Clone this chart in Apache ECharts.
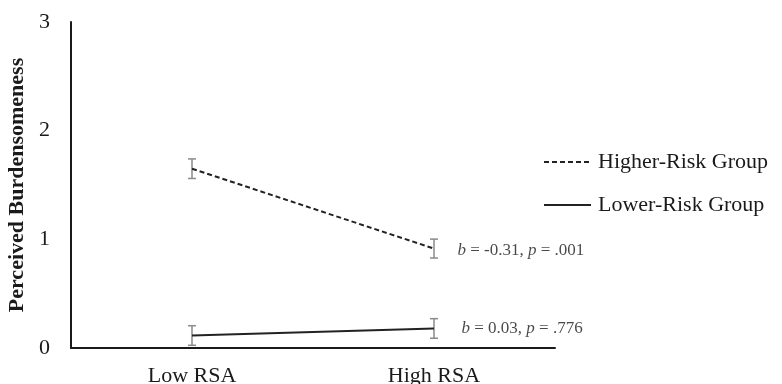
<!DOCTYPE html>
<html><head><meta charset="utf-8">
<script src="https://cdn.jsdelivr.net/npm/echarts@6/dist/echarts.min.js"></script>
<style>html,body{margin:0;padding:0;background:#fff}#c{width:782px;height:384px}</style>
</head><body><div id="c"></div>
<script>
const categories = ['Low RSA', 'High RSA'];
const higherRisk = [1.65, 0.915];
const higherErr = [0.09, 0.087];
const lowerRisk = [0.115, 0.18];
const lowerErr = [0.09, 0.09];
const yTicks = [0, 1, 2, 3];
const seriesNames = ['Higher-Risk Group', 'Lower-Risk Group'];
const annotations = ['{i|b} = -0.31, {i|p} = .001', '{i|b} = 0.03, {i|p} = .776'];

const FONT = '"Liberation Serif", "Times New Roman", serif';
const TXT = '#1a1a1a';
function errData(vals, errs) {
  return vals.map((v, i) => [i, v - errs[i], v + errs[i]]);
}
function errSeries(vals, errs) {
  return {
    type: 'custom', silent: true, z: 1,
    data: errData(vals, errs),
    renderItem: function (params, api) {
      const lo = api.coord([api.value(0), api.value(1)]);
      const hi = api.coord([api.value(0), api.value(2)]);
      const w = 4;
      const style = { stroke: '#8a8a8a', lineWidth: 1.5 };
      return { type: 'group', children: [
        { type: 'line', shape: { x1: lo[0], y1: lo[1], x2: hi[0], y2: hi[1] }, style },
        { type: 'line', shape: { x1: lo[0] - w, y1: lo[1], x2: lo[0] + w, y2: lo[1] }, style },
        { type: 'line', shape: { x1: hi[0] - w, y1: hi[1], x2: hi[0] + w, y2: hi[1] }, style }
      ]};
    }
  };
}
const last = categories.length - 1;
const annSeries = {
  type: 'scatter', silent: true, symbolSize: 1, itemStyle: { color: 'rgba(0,0,0,0)' }, z: 4,
  data: [
    { value: [last, higherRisk[last]], label: { formatter: annotations[0], distance: 23, offset: [0, 2] } },
    { value: [last, lowerRisk[last]], label: { formatter: annotations[1], distance: 27 } }
  ],
  label: { show: true, position: 'right', color: TXT, fontFamily: FONT, fontSize: 17,
    rich: { i: { fontStyle: 'italic', fontFamily: FONT, fontSize: 17, color: TXT } } }
};
const chart = echarts.init(document.getElementById('c'));
chart.setOption({
  animation: false,
  backgroundColor: '#fff',
  grid: { left: 71, right: 227, top: 22, bottom: 36, outerBoundsMode: 'none', containLabel: false },
  legend: {
    orient: 'vertical', left: 543, top: 151, padding: 0,
    itemWidth: 47, itemHeight: 22, itemGap: 21,
    data: seriesNames,
    itemStyle: { color: 'rgba(0,0,0,0)', borderWidth: 0 },
    textStyle: { fontFamily: FONT, fontSize: 22, color: TXT, padding: [0, 0, 0, 2] }
  },
  xAxis: {
    type: 'category', data: categories,
    axisLine: { lineStyle: { color: '#1a1a1a', width: 2 } },
    axisTick: { show: false },
    axisLabel: { fontFamily: FONT, fontSize: 22, color: TXT, margin: 17 }
  },
  yAxis: {
    type: 'value', min: yTicks[0], max: yTicks[yTicks.length - 1], interval: 1,
    name: 'Perceived Burdensomeness', nameLocation: 'middle', nameGap: 37,
    nameTextStyle: { fontFamily: FONT, fontSize: 22, fontWeight: 'bold', color: TXT },
    axisLine: { show: true, lineStyle: { color: '#1a1a1a', width: 2 } },
    axisTick: { show: false },
    splitLine: { show: false },
    axisLabel: { fontFamily: FONT, fontSize: 22, color: TXT, margin: 21 }
  },
  series: [
    errSeries(higherRisk, higherErr),
    errSeries(lowerRisk, lowerErr),
    { name: seriesNames[0], type: 'line', data: higherRisk,
      symbol: 'none', z: 3, color: '#222',
      lineStyle: { color: '#222', width: 2, type: [5, 3] } },
    { name: seriesNames[1], type: 'line', data: lowerRisk,
      symbol: 'none', z: 3, color: '#222',
      lineStyle: { color: '#222', width: 2, type: 'solid' } },
    annSeries
  ]
});
</script></body></html>
